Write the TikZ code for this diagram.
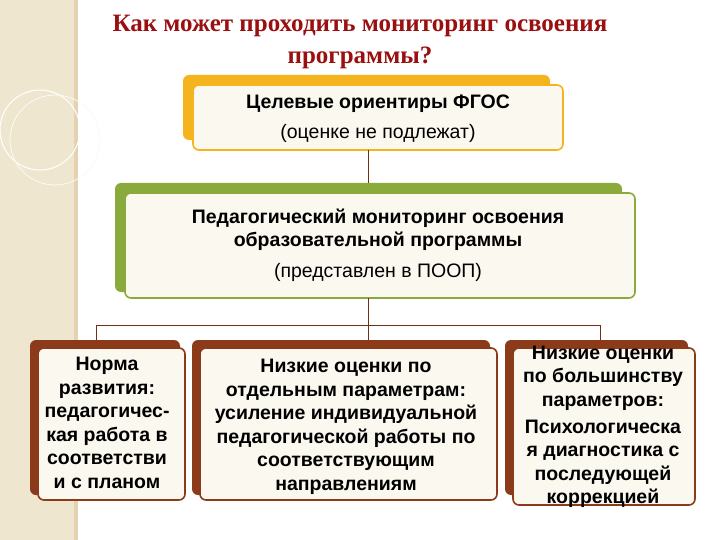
\documentclass[tikz,border=0pt]{standalone}
\usepackage{fontspec}
\setmainfont{Liberation Serif}
\newfontfamily\arl{Liberation Sans}
\definecolor{org}{HTML}{F5B41E}
\definecolor{grn}{HTML}{8AAA3C}
\definecolor{brn}{HTML}{8B3A1A}
\definecolor{beige}{HTML}{EFE6CF}
\definecolor{ttl}{HTML}{9A1010}
\definecolor{fill1}{HTML}{FBF8EF}
\begin{document}
\begin{tikzpicture}[x=1pt,y=-1pt,
  back/.style={rounded corners=6pt},
  front/.style={rounded corners=6pt,line width=1.6pt,fill=fill1},
  txt/.style={font=\arl\bfseries\fontsize{19.5}{23.5}\selectfont,align=center,text=black,inner sep=0pt},
  rtxt/.style={font=\arl\fontsize{19.5}{23.5}\selectfont,align=center,text=black,inner sep=0pt},
  link/.style={draw=brn!80!black,line width=1pt}]
\useasboundingbox (0,0) rectangle (720,540);
\fill[white] (0,0) rectangle (720,540);
\fill[beige] (0,0) rectangle (76,540);
\fill[beige!80!brown] (74,0) rectangle (78,540);
\draw[white,line width=1pt] (40,130) circle (40);
\draw[white!80!beige,line width=0.8pt] (55,140) circle (45);
\node[font=\bfseries\fontsize{25}{32}\selectfont,text=ttl,align=center] (title) at (360,42) {Как может проходить мониторинг освоения\\программы?};
% top
\fill[org,back] (183,75) rectangle (550,140);
\draw[front,draw=org] (193,85) rectangle (563,150);
\node[txt] (t1) at (378,104) {Целевые ориентиры ФГОС};
\node[rtxt] (t1b) at (378,133) {(оценке не подлежат)};
% middle
\fill[grn,back] (115,183) rectangle (622,292);
\draw[front,draw=grn] (125,193) rectangle (635,298);
\node[txt] (t2) at (378,230) {Педагогический мониторинг освоения\\образовательной программы};
\node[rtxt] (t2b) at (378,272) {(представлен в ПООП)};
% links
\coordinate (a1) at (368,150); \coordinate (a2) at (368,183);
\draw[link] (a1) -- (a2);
\coordinate (b1) at (368,298); \coordinate (b2) at (368,325);
\coordinate (l) at (96,325); \coordinate (r) at (600,325);
\coordinate (l2) at (96,340); \coordinate (m2) at (368,340); \coordinate (r2) at (600,340);
\draw[link] (b1) -- (b2);
\draw[link] (l2) -- (l) -- (r) -- (r2);
\draw[link] (b2) -- (m2);
% bottom
\foreach \xa/\xb in {30/180,192/490,505/688}{\fill[brn,back] (\xa,340) rectangle (\xb,495);}
\draw[front,draw=brn] (38,348) rectangle (185,500);
\draw[front,draw=brn] (200,348) rectangle (497,500);
\draw[front,draw=brn] (513,348) rectangle (695,505);
\node[txt] (n1) at (107,423) {Норма\\развития:\\педагогичес-\\кая работа в\\соответстви\\и с планом};
\node[txt] (n2) at (346,427) {Низкие оценки по\\отдельным параметрам:\\усиление индивидуальной\\педагогической работы по\\соответствующим\\направлениям};
\node[txt] (n3) at (603,378) {Низкие оценки\\по большинству\\параметров:};
\node[txt] (n4) at (603,464) {Психологическа\\я диагностика с\\последующей\\коррекцией};
\end{tikzpicture}
\end{document}
